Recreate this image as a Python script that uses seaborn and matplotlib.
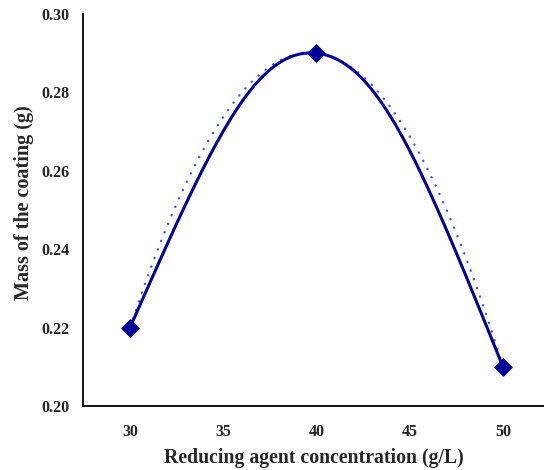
import numpy as np
import matplotlib
matplotlib.use("Agg")
import matplotlib.pyplot as plt
import seaborn as sns

# Measured coating mass versus reducing agent concentration
concentration = [30, 40, 50]
coating_mass = [0.22, 0.29, 0.21]

x_ticks = [30, 35, 40, 45, 50]
y_ticks = [0.20, 0.22, 0.24, 0.26, 0.28, 0.30]

sns.set_style("white")
plt.rcParams["font.family"] = ["Liberation Serif", "DejaVu Serif"]
plt.rcParams["font.weight"] = "bold"


def smooth_line(xs, ys, n=60, end_pull=0.65):
    """Bezier smoothing through the points (cardinal tangents inside,
    softened tangents at both ends)."""
    pts = np.column_stack([xs, ys]).astype(float)
    m = len(pts)
    out = []
    for i in range(m - 1):
        p0, p1 = pts[i], pts[i + 1]
        c1 = p0 + (p1 - pts[i - 1]) / 6.0 if i > 0 else None
        c2 = p1 - (pts[i + 2] - p0) / 6.0 if i + 2 < m else None
        if c1 is None:
            c1 = p0 + end_pull * ((c2 if c2 is not None else p1) - p0)
        if c2 is None:
            c2 = p1 + end_pull * (c1 - p1)
        t = np.linspace(0, 1, n)[:, None]
        seg = ((1 - t) ** 3) * p0 + 3 * ((1 - t) ** 2) * t * c1 \
            + 3 * (1 - t) * t ** 2 * c2 + t ** 3 * p1
        out.append(seg if i == 0 else seg[1:])
    seg_all = np.vstack(out)
    return seg_all[:, 0], seg_all[:, 1]


fig = plt.figure(figsize=(5.44, 4.70), dpi=100)
ax = fig.add_axes([0.1526, 0.1362, 0.8474, 0.834])

# Second-order polynomial trendline
coef = np.polyfit(concentration, coating_mass, 2)
xt = np.linspace(min(concentration), max(concentration), 300)
sns.lineplot(x=xt, y=np.polyval(coef, xt), ax=ax, color="#3355ff",
             linestyle=(0, (0.1, 3.8)), linewidth=1.7,
             dash_capstyle="round")

# Smoothed line through the measurements
sx, sy = smooth_line(concentration, coating_mass)
sns.lineplot(x=sx, y=sy, ax=ax, color="#000099", linewidth=2.2, sort=False)

# Data markers
sns.scatterplot(x=concentration, y=coating_mass, ax=ax, marker="D", s=80,
                color="#000099", edgecolor="#000099", zorder=5)

ax.set_xlim(27.48, 52.2)
ax.set_ylim(0.20, 0.30)
ax.set_xticks(x_ticks)
ax.set_yticks(y_ticks)
ax.set_xticklabels([str(v) for v in x_ticks], fontsize=11.5, fontweight="bold")
ax.set_yticklabels([f"{v:.2f}" for v in y_ticks], fontsize=11.5,
                   fontweight="bold")
ax.tick_params(axis="x", length=0, pad=13)
ax.tick_params(axis="y", length=0, pad=10)

for side in ["top", "right"]:
    ax.spines[side].set_visible(False)
for side in ["left", "bottom"]:
    ax.spines[side].set_color("black")
    ax.spines[side].set_linewidth(1.3)

ax.set_xlabel("Reducing agent concentration (g/L)", fontsize=14.2,
              fontweight="bold", labelpad=6)
ax.set_ylabel("Mass of the coating (g)", fontsize=14.5, fontweight="bold")
ax.yaxis.set_label_coords(-0.106, 0.52)

fig.savefig("out.png", dpi=100)
